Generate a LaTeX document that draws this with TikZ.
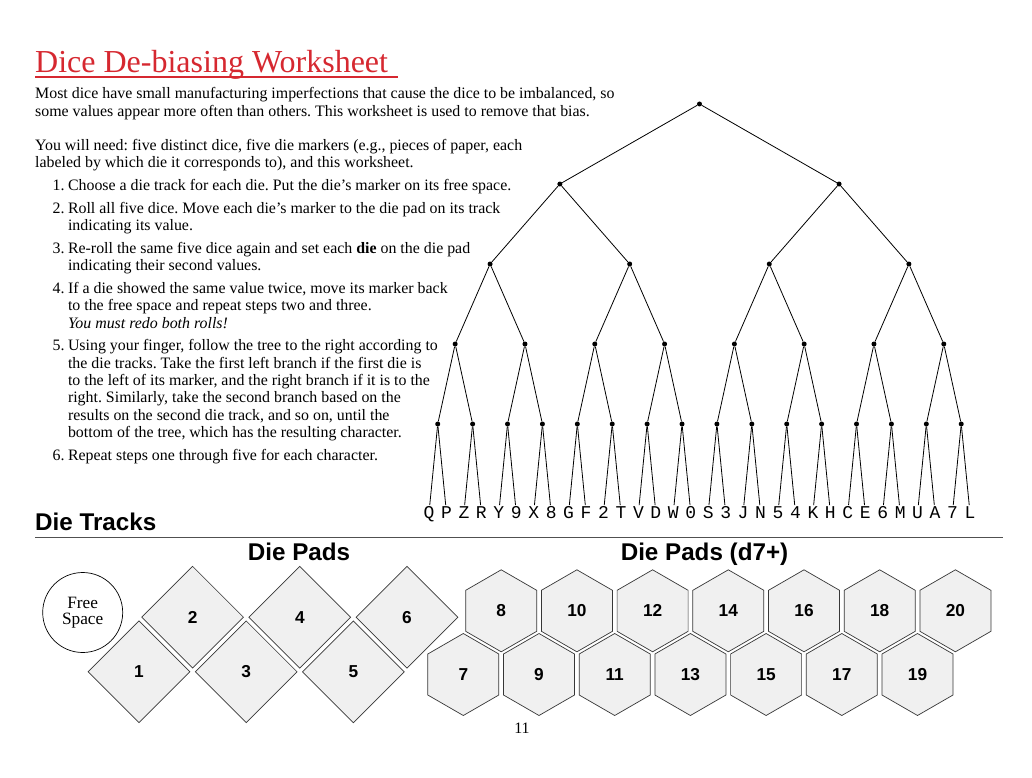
\documentclass[tikz,border=0pt]{standalone}
\usepackage{fontspec}
\setmainfont{Liberation Serif}
\setsansfont{Liberation Sans}
\setmonofont{Liberation Mono}
\usepackage{tikz}
\usetikzlibrary{positioning,calc,shapes.geometric}
\definecolor{titlered}{RGB}{214,40,48}
\definecolor{padfill}{RGB}{240,240,240}
\definecolor{padline}{RGB}{55,55,55}
\definecolor{rulegray}{RGB}{80,80,80}
\frenchspacing
\tikzset{
  body/.style    = {inner sep=0pt, anchor=base west, font=\fontsize{15.9}{17.4}\selectfont},
  heading/.style = {inner sep=0pt, anchor=base west, font=\sffamily\bfseries\fontsize{24.2}{28}\selectfont},
  dot/.style     = {circle, fill=black, inner sep=0pt, minimum size=5pt},
  branch/.style  = {line width=0.8pt},
  leaf/.style    = {anchor=base, inner sep=1.5pt, text height=11.5pt, text depth=0pt,
                    font=\ttfamily\fontsize{18}{22}\selectfont},
  pad/.style     = {diamond, draw=padline, fill=padfill, line width=0.7pt, inner sep=0pt,
                    minimum width=102pt, minimum height=102pt,
                    font=\sffamily\bfseries\fontsize{17.28}{20}\selectfont},
  hexpad/.style  = {regular polygon, regular polygon sides=6, shape border rotate=30,
                    draw=padline, fill=padfill, line width=0.7pt, inner sep=0pt, minimum size=82pt,
                    font=\sffamily\bfseries\fontsize{17.28}{20}\selectfont}
}
\begin{document}
\begin{tikzpicture}[x=1pt, y=-1pt]
  \fill[white] (0,0) rectangle (1032,778);

  % text
  \node[body, font=\fontsize{32}{36}\selectfont, text=titlered] (title) at (35,72.3) {Dice De-biasing Worksheet};
  \draw[titlered, line width=1.8pt] ($(title.base west)+(0,5)$) -- ($(title.base east)+(10,5)$);
  \node[body] (intro) at (35,99) {\begin{tabular}[t]{@{}l@{}}
      Most dice have small manufacturing imperfections that cause the dice to be imbalanced, so\\
      some values appear more often than others. This worksheet is used to remove that bias.
    \end{tabular}};
  \node[body] (need) at (35,150.5) {\begin{tabular}[t]{@{}l@{}}
      You will need: five distinct dice, five die markers (e.g., pieces of paper, each\\
      labeled by which die it corresponds to), and this worksheet.
    \end{tabular}};
  \node[body] (steps) at (52.5,190.7) {\begin{tabular}[t]{@{}r@{\hspace{3.4pt}}l@{}}
      1. & Choose a die track for each die. Put the die's marker on its free space.\\[5.2pt]
      2. & Roll all five dice. Move each die's marker to the die pad on its track\\
         & indicating its value.\\[5.2pt]
      3. & Re-roll the same five dice again and set each \textbf{die} on the die pad\\
         & indicating their second values.\\[5.2pt]
      4. & If a die showed the same value twice, move its marker back\\
         & to the free space and repeat steps two and three.\\
         & \textit{You must redo both rolls!}\\[5.2pt]
      5. & Using your finger, follow the tree to the right according to\\
         & the die tracks. Take the first left branch if the first die is\\
         & to the left of its marker, and the right branch if it is to the\\
         & right. Similarly, take the second branch based on the\\
         & results on the second die track, and so on, until the\\
         & bottom of the tree, which has the resulting character.\\[5.2pt]
      6. & Repeat steps one through five for each character.
    \end{tabular}};

  % tree
  \foreach \lev in {0,...,4}{
    \pgfmathtruncatemacro{\cnt}{2^\lev-1}
    \pgfmathtruncatemacro{\grp}{2^(5-\lev)}
    \foreach \k in {0,...,\cnt}{
      \pgfmathsetmacro{\xx}{429+17.45*(\k*\grp+(\grp-1)/2)}
      \node[dot] (n-\lev-\k) at (\xx,104+80*\lev) {};
    }
  }
  \foreach \lev in {1,...,4}{
    \pgfmathtruncatemacro{\cnt}{2^\lev-1}
    \pgfmathtruncatemacro{\up}{\lev-1}
    \foreach \k in {0,...,\cnt}{
      \pgfmathtruncatemacro{\mom}{\k/2}
      \draw[branch] (n-\up-\mom) -- (n-\lev-\k);
    }
  }
  \foreach \ch [count=\i from 0] in {Q,P,Z,R,Y,9,X,8,G,F,2,T,V,D,W,0,S,3,J,N,5,4,K,H,C,E,6,M,U,A,7,L}{
    \pgfmathtruncatemacro{\mom}{\i/2}
    \node[leaf] (leaf-\i) at (429+17.45*\i,518.3) {\ch};
    \draw[branch] (n-4-\mom) -- (leaf-\i);
  }

  % die tracks
  \node[heading] (tracks) at (35,530.7) {Die Tracks};
  \draw[rulegray, line width=1.6pt] ($(tracks.base west)+(0,6.8)$) -- ++(968,0);
  \node[heading, anchor=base] (pads) at (299,560) {Die Pads};
  \node[heading, anchor=base] (padsbig) at (704.5,560) {Die Pads (d7+)};

  \node[circle, draw, line width=0.7pt, minimum size=80pt, inner sep=0pt, align=center,
        font=\fontsize{17.28}{15.7}\selectfont] (free) at (82.7,612.5) {Free\\Space};

  \foreach \n in {1,...,6}{
    \pgfmathsetmacro{\xx}{139+(\n-1)*53.6}
    \pgfmathsetmacro{\yy}{ifthenelse(mod(\n,2)==1,671.8,617.2)}
    \node[pad] (d\n) at (\xx,\yy) {\n};
  }
  \foreach \n in {7,...,20}{
    \pgfmathtruncatemacro{\k}{(\n-7)/2}
    \pgfmathsetmacro{\xx}{ifthenelse(mod(\n,2)==1,463.3,501.2)+\k*75.7}
    \pgfmathsetmacro{\yy}{ifthenelse(mod(\n,2)==1,674.5,610.8)}
    \node[hexpad] (h\n) at (\xx,\yy) {\n};
  }

  \node[body, anchor=base] (page) at (522,733) {11};
\end{tikzpicture}
\end{document}
